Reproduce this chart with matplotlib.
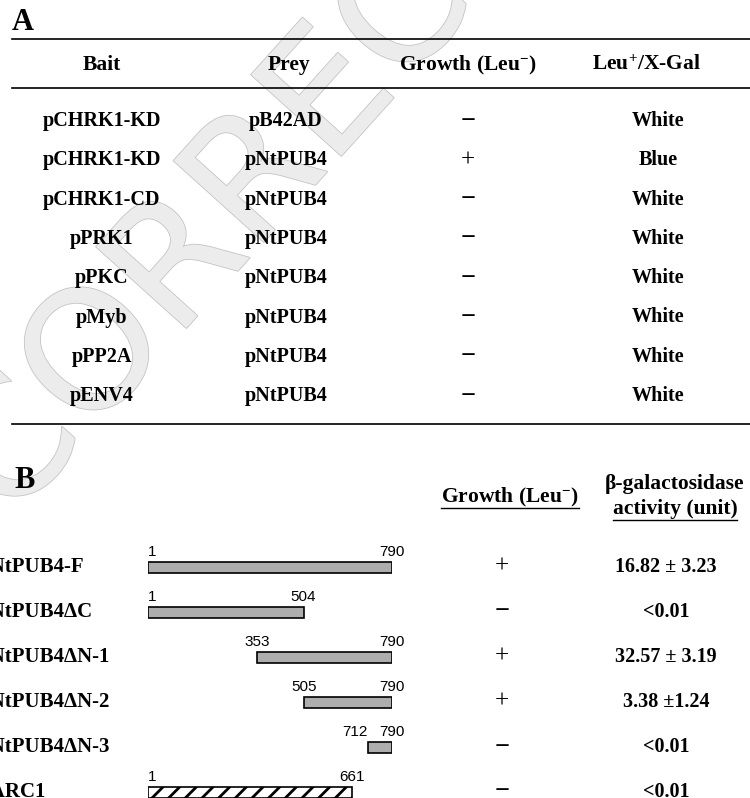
import matplotlib
matplotlib.use("Agg")
import matplotlib.pyplot as plt
import matplotlib.patheffects as pe

plt.rcParams['font.family'] = ['Liberation Serif', 'DejaVu Serif']
plt.rcParams['mathtext.fontset'] = 'custom'
plt.rcParams['mathtext.rm'] = 'Liberation Serif:bold'
plt.rcParams['mathtext.it'] = 'Liberation Serif:bold'
plt.rcParams['mathtext.bf'] = 'Liberation Serif:bold'
plt.rcParams['hatch.linewidth'] = 2.0

# ---- panel A data
a_headers = ['Bait', 'Prey', 'Growth (Leu$^{-}$)', 'Leu$^{+}$/X-Gal']
baits = ['pCHRK1-KD', 'pCHRK1-KD', 'pCHRK1-CD', 'pPRK1', 'pPKC', 'pMyb', 'pPP2A', 'pENV4']
preys = ['pB42AD', 'pNtPUB4', 'pNtPUB4', 'pNtPUB4', 'pNtPUB4', 'pNtPUB4', 'pNtPUB4', 'pNtPUB4']
a_growth = ['-', '+', '-', '-', '-', '-', '-', '-']
xgal = ['White', 'Blue', 'White', 'White', 'White', 'White', 'White', 'White']

# ---- panel B data
constructs = ['pNtPUB4-F', 'pNtPUB4ΔC', 'pNtPUB4ΔN-1', 'pNtPUB4ΔN-2', 'pNtPUB4ΔN-3', 'pARC1']
aa_start = [1, 1, 353, 505, 712, 1]
aa_end = [790, 504, 790, 790, 790, 661]
b_growth = ['+', '-', '+', '+', '-', '-']
activity = ['16.82 ± 3.23', '<0.01', '32.57 ± 3.19', '3.38 ±1.24', '<0.01', '<0.01']

W, H = 750, 798
fig = plt.figure(figsize=(W / 100, H / 100), dpi=100)
ax = fig.add_axes([0, 0, 1, 1])
ax.set_xlim(0, W)
ax.set_ylim(H, 0)
ax.axis('off')

# faint watermark across the upper left
ax.text(322, 108, 'CORRECTED', rotation=48, fontsize=120, family='DejaVu Sans',
        ha='center', va='center', color='#ececec', zorder=0,
        path_effects=[pe.withStroke(linewidth=1.2, foreground='#c4c4c4')])

bold = dict(fontweight='bold', ha='center', va='center', zorder=3)


def sign(x, y, g):
    if g == '+':
        ax.text(x, y, '+', fontsize=18, ha='center', va='center', zorder=3)
    else:
        ax.text(x, y, '−', fontsize=19, fontweight='bold', ha='center', va='center', zorder=3)


# panel A
ax.text(12, 22, 'A', fontsize=22, fontweight='bold', va='center', ha='left')
for yy in (39, 88, 424):
    ax.plot([12, 750], [yy, yy], color='black', lw=1.2)

col_x = [102, 289, 468, 646]
for x, t in zip(col_x, a_headers):
    ax.text(x, 65, t, fontsize=15.5, **bold)

row_y = [121 + 39.3 * i for i in range(len(baits))]
for i, y in enumerate(row_y):
    ax.text(col_x[0], y, baits[i], fontsize=14.5, **bold)
    ax.text(286, y, preys[i], fontsize=14.5, **bold)
    sign(468, y, a_growth[i])
    ax.text(658, y, xgal[i], fontsize=14.5, **bold)

# panel B
ax.text(14, 480, 'B', fontsize=22, fontweight='bold', va='center', ha='left')

fig.canvas.draw()
rend = fig.canvas.get_renderer()


def underlined(x, y, s):
    t = ax.text(x, y, s, fontsize=15.5, **bold)
    bb = t.get_window_extent(rend).transformed(ax.transData.inverted())
    ax.plot([bb.x0, bb.x1], [y + 11, y + 11], color='black', lw=1.0)


underlined(510, 497, 'Growth (Leu$^{-}$)')
ax.text(674, 484, 'β-galactosidase', fontsize=15.5, **bold)
underlined(675, 509, 'activity (unit)')

b_rows = [567 + 45 * i for i in range(len(constructs))]
for i, y in enumerate(b_rows):
    ax.text(-21, y, constructs[i], fontsize=15, fontweight='bold', ha='left', va='center')
    sign(502, y, b_growth[i])
    ax.text(666, y, activity[i], fontsize=14.5, **bold)

# construct bars, amino-acid scale
bax = fig.add_axes([148 / W, 0, 244 / W, 1])
bax.set_xlim(1, 790)
bax.set_ylim(H, 0)
bax.axis('off')
bax.patch.set_alpha(0)
for i, y in enumerate(b_rows):
    s, e = aa_start[i], aa_end[i]
    if constructs[i] == 'pARC1':
        bax.barh(y, e - s, left=s, height=11, color='white', edgecolor='black',
                 hatch='//', lw=1.2)
    else:
        bax.barh(y, e - s, left=s, height=11, color='#adadad', edgecolor='black', lw=1.2)
    if s == 1:
        bax.text(s, y - 15, str(s), fontsize=11, family='Liberation Sans', ha='left', va='center')
    elif e - s < 150:
        bax.text(s, y - 15, str(s), fontsize=11, family='Liberation Sans', ha='right', va='center')
    else:
        bax.text(s, y - 15, str(s), fontsize=11, family='Liberation Sans', ha='center', va='center')
    bax.text(e, y - 15, str(e), fontsize=11, family='Liberation Sans', ha='center', va='center')

fig.savefig('out.png', dpi=100)
